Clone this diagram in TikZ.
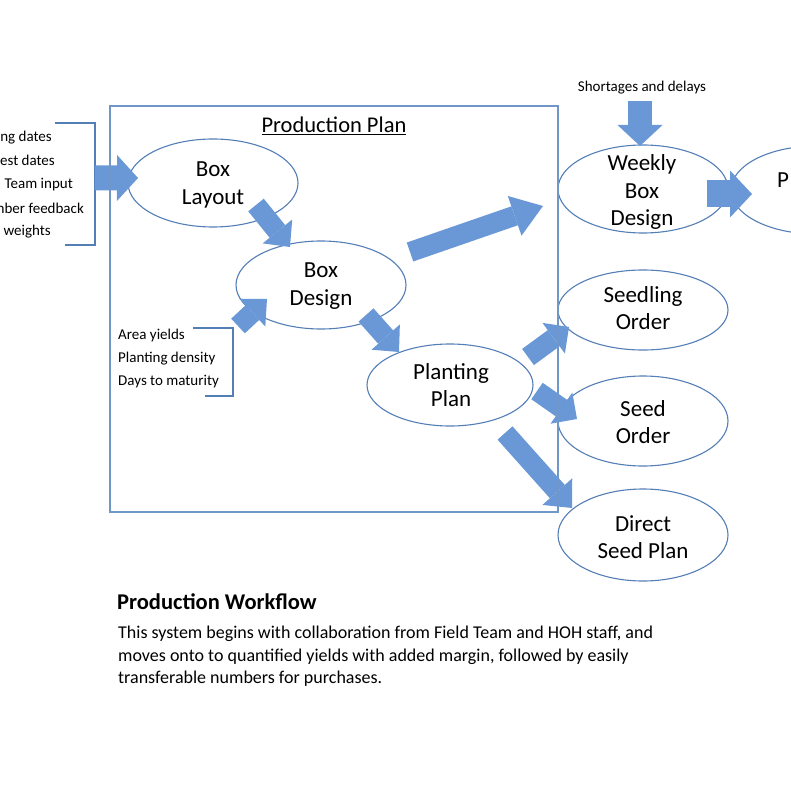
\documentclass[tikz,border=0pt]{standalone}
\usepackage{fontspec}
\setmainfont{Carlito}
\usetikzlibrary{shapes.geometric,arrows.meta,calc}
\definecolor{linecol}{RGB}{84,126,182}
\definecolor{framecol}{RGB}{112,150,202}
\definecolor{arrowcol}{RGB}{106,152,214}

\begin{document}
\begin{tikzpicture}[x=1pt, y=-1pt,
    oval/.style={ellipse, draw=linecol, line width=1.1pt, fill=white,
        minimum width=170pt, minimum height=88pt, inner sep=0pt},
    ovaltext/.style={align=center, font=\fontsize{23}{27.5}\selectfont, inner sep=0pt},
    note/.style={font=\fontsize{15}{23}\selectfont, inner sep=0pt},
    bracket/.style={draw=linecol, line width=2.4pt},
    fat/.style n args={3}{draw=arrowcol, line width=#1,
        -{Triangle[width=#2, length=#3, line width=0pt]}}]

\useasboundingbox (0,0) rectangle (791,791);

% ellipses
\node[oval] (layout) at (213,183) {};
\node[ovaltext] (layoutText) at (213,185) {Box\\Layout};
\node[oval] (design) at (321,285) {};
\node[ovaltext] (designText) at (321,286) {Box\\Design};
\node[oval, minimum width=166pt, minimum height=82pt] (plant) at (450,385) {};
\node[ovaltext] (plantText) at (451,385) {Planting\\Plan};
\node[oval] (weekly) at (643,189) {};
\node[ovaltext] (weeklyText) at (642,192) {Weekly\\Box\\Design};
\node[oval] (packing) at (816,190) {};
\node[ovaltext, anchor=west] (packingText) at (777,180) {P};
\node[oval, minimum height=80pt] (seedling) at (643,310) {};
\node[ovaltext] (seedlingText) at (643,308) {Seedling\\Order};
\node[oval, minimum height=90pt] (seed) at (643,421) {};
\node[ovaltext] (seedText) at (643,422) {Seed\\Order};
\node[oval, minimum height=92pt] (direct) at (643,535) {};
\node[ovaltext] (directText) at (643,537) {Direct\\Seed Plan};

% inputs on the left
\foreach \txt/\xx/\yy [count=\i] in {ng dates/52/138, est dates/55/160,
    Team input/73/185, mber feedback/84/208, weights/51/232}
    \node[note, anchor=east] (input\i) at (\xx,\yy) {\txt};
\coordinate (brTop) at (95,123);
\coordinate (brBot) at (95,245);
\draw[bracket] (55,123) -- (brTop) -- (brBot) -- (65,245);

\node[note, anchor=north west, align=left] (yieldsText) at (118,329)
    {Area yields\\Planting density\\Days to maturity};
\coordinate (ybTop) at (233,328);
\coordinate (ybBot) at (233,396);
\draw[bracket] (193,328) -- (ybTop) -- (ybBot) -- (205,396);

\node[note] (shortText) at (642,88) {Shortages and delays};

% block arrows
\draw[fat={25pt}{46pt}{21pt}] ($(brTop)!0.45!(brBot)$) -- ($(layout)+(-75,-5)$);
\draw[fat={20pt}{38pt}{20pt}] ($(layout)+(43,22)$) -- ($(design)+(-31,-38)$);
\draw[fat={20pt}{38pt}{20pt}] ($(ybTop)+(5,-2)$) -- ($(design)+(-54,14)$);
\draw[fat={20pt}{38pt}{20pt}] ($(design)+(45,30)$) -- ($(plant)+(-51,-33)$);
\draw[fat={20pt}{42pt}{30pt}] ($(design)+(89,-33)$) -- ($(weekly)+(-100,17)$);
\draw[fat={24pt}{45pt}{21pt}] ($(shortText.south)+(-2,6)$) -- ($(weekly)+(-3,-43)$);
\draw[fat={27pt}{47pt}{22pt}] ($(weekly)+(64,5)$) -- ($(packing)+(-64,4)$);
\draw[fat={20pt}{38pt}{19pt}] ($(plant)+(78,-28)$) -- ($(seedling)+(-74,17)$);
\draw[fat={20pt}{38pt}{19pt}] ($(plant)+(87,6)$) -- ($(seed)+(-66,-2)$);
\draw[fat={20pt}{40pt}{22pt}] ($(plant)+(55,48)$) -- ($(direct)+(-71,-27)$);

% frame
\draw[framecol, line width=1.4pt] (110,106) rectangle (558,512);
\node[font=\fontsize{22.5}{26}\selectfont] (planTitle) at (334,126) {\underline{Production Plan}};

% caption
\node[anchor=base west, inner sep=0pt, font=\bfseries\fontsize{22.5}{26}\selectfont]
    (workflowTitle) at (117,609) {Production Workflow};
\node[anchor=north west, inner sep=0pt, align=left, font=\fontsize{18}{22.5}\selectfont]
    (workflowText) at (118,626) {This system begins with collaboration from Field Team and HOH staff, and\\
    moves onto to quantified yields with added margin, followed by easily\\
    transferable numbers for purchases.};
\end{tikzpicture}
\end{document}
